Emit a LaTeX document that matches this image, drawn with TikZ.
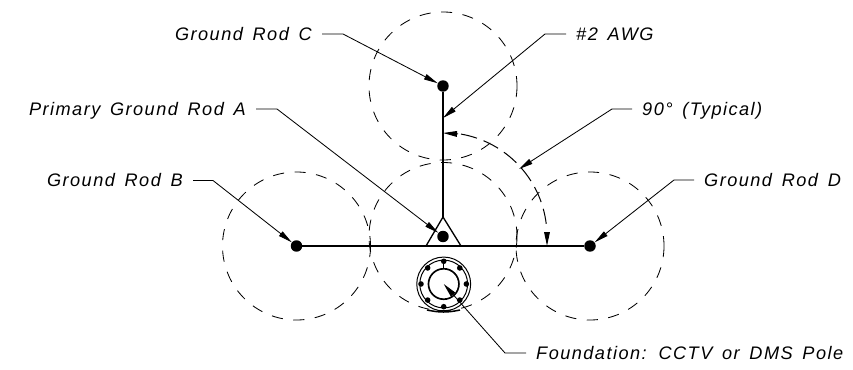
\documentclass[tikz,border=0pt]{standalone}
\usepackage{fontspec}
\usetikzlibrary{arrows.meta}
\setmainfont[LetterSpace=8, WordSpace=1.5]{Liberation Sans}
\tikzset{
	rodline/.style = {line width = 0.5mm},
	zone/.style = {dash pattern = on 9.5pt off 9pt, line width = 0.25mm},
	leader/.style = {line width = 0.25mm, -{Triangle[length=4.2mm, width=1.7mm]}},
	note/.style = {font = \fontsize{15.5}{18}\selectfont\itshape, inner sep = 0pt, text height = 11pt, text depth = 0pt},
	rod/.style = {circle, fill = black, inner sep = 0pt, minimum size = 9.8pt},
	ring/.style = {circle, draw, inner sep = 0pt}
}

\begin{document}
\begin{tikzpicture}[x = 0.03cm, y = -0.03cm]
			\useasboundingbox (0,0) rectangle (853,370);
			% rods
			\node (c) at (443,86) [rod] {};
			\node (a) at (443,236.5) [rod] {};
			\node (b) at (296.5,246) [rod] {};
			\node (d) at (590,246) [rod] {};
			% zones around the rods
			\draw[zone] (c.center) circle (74);
			\draw[zone] (a.center) circle (74);
			\draw[zone] (b.center) circle (74);
			\draw[zone] (d.center) circle (74);
			\coordinate (t) at (443,217);
			\coordinate (tl) at (426,246);
			\coordinate (tr) at (461,246);
			\draw[rodline] (c) -- (t);
			\draw[rodline] (b) -- (d);
			\draw[line width = 0.4mm] (tl) -- (t) -- (tr);
			% foundation
			\node (f) at (443.7,284) [ring, line width = 0.3mm, minimum size = 46pt] {};
			\node (fo) at (443.7,284) [ring, line width = 0.3mm, minimum size = 40.8pt] {};
			\node (fi) at (443.7,284) [ring, line width = 0.5mm, minimum size = 26pt] {};
			\foreach \ang in {0,45,...,315}
				\fill (f.center) ++(\ang:22.7) circle (2.8);
			\draw[line width = 0.4mm] (443.7,262) -- (443.7,269);
			\draw[line width = 0.45mm] (427,310) to[bend right = 12] (460,310);
			% ninety degree arc
			\coordinate (up) at (443,133);
			\coordinate (rt) at (547,246);
			\draw[line width = 0.3mm, dash pattern = on 14pt off 6pt] (a.center) ++(-80:104) arc[start angle = -80, end angle = -7, radius = 104];
			\draw[leader, line width = 0.3mm] (458,134) -- (up);
			\draw[leader, line width = 0.3mm] (547,232) -- (rt);
			% labels
			\node (lc) at (312,34) [note, anchor = east] {Ground Rod C};
			\node (la) at (246,109) [note, anchor = east] {Primary Ground Rod A};
			\node (lb) at (183,180.5) [note, anchor = east] {Ground Rod B};
			\node (lw) at (576,34) [note, anchor = west] {\#2 AWG};
			\node (lq) at (642,109) [note, anchor = west] {90° (Typical)};
			\node (ld) at (704,180) [note, anchor = west] {Ground Rod D};
			\node (lf) at (536,353) [note, anchor = west] {Foundation: CCTV or DMS Pole};
			% leaders
			\coordinate (w) at (443,118);
			\coordinate (q) at (519,169);
			\draw[leader] (lc.east) ++(10,0) -- ++(21,0) -- (c);
			\draw[leader] (la.east) ++(10,0) -- ++(21,0) -- (a);
			\draw[leader] (lb.east) ++(10,0) -- ++(20,0) -- (b);
			\draw[leader] (lw.west) ++(-10,0) -- ++(-21,0) -- (w);
			\draw[leader] (lq.west) ++(-10,0) -- ++(-20,0) -- (q);
			\draw[leader] (ld.west) ++(-10,0) -- ++(-20,0) -- (d);
			\draw[leader] (lf.west) ++(-10,0) -- ++(-21,0) -- (f.center);
			\end{tikzpicture}
\end{document}
